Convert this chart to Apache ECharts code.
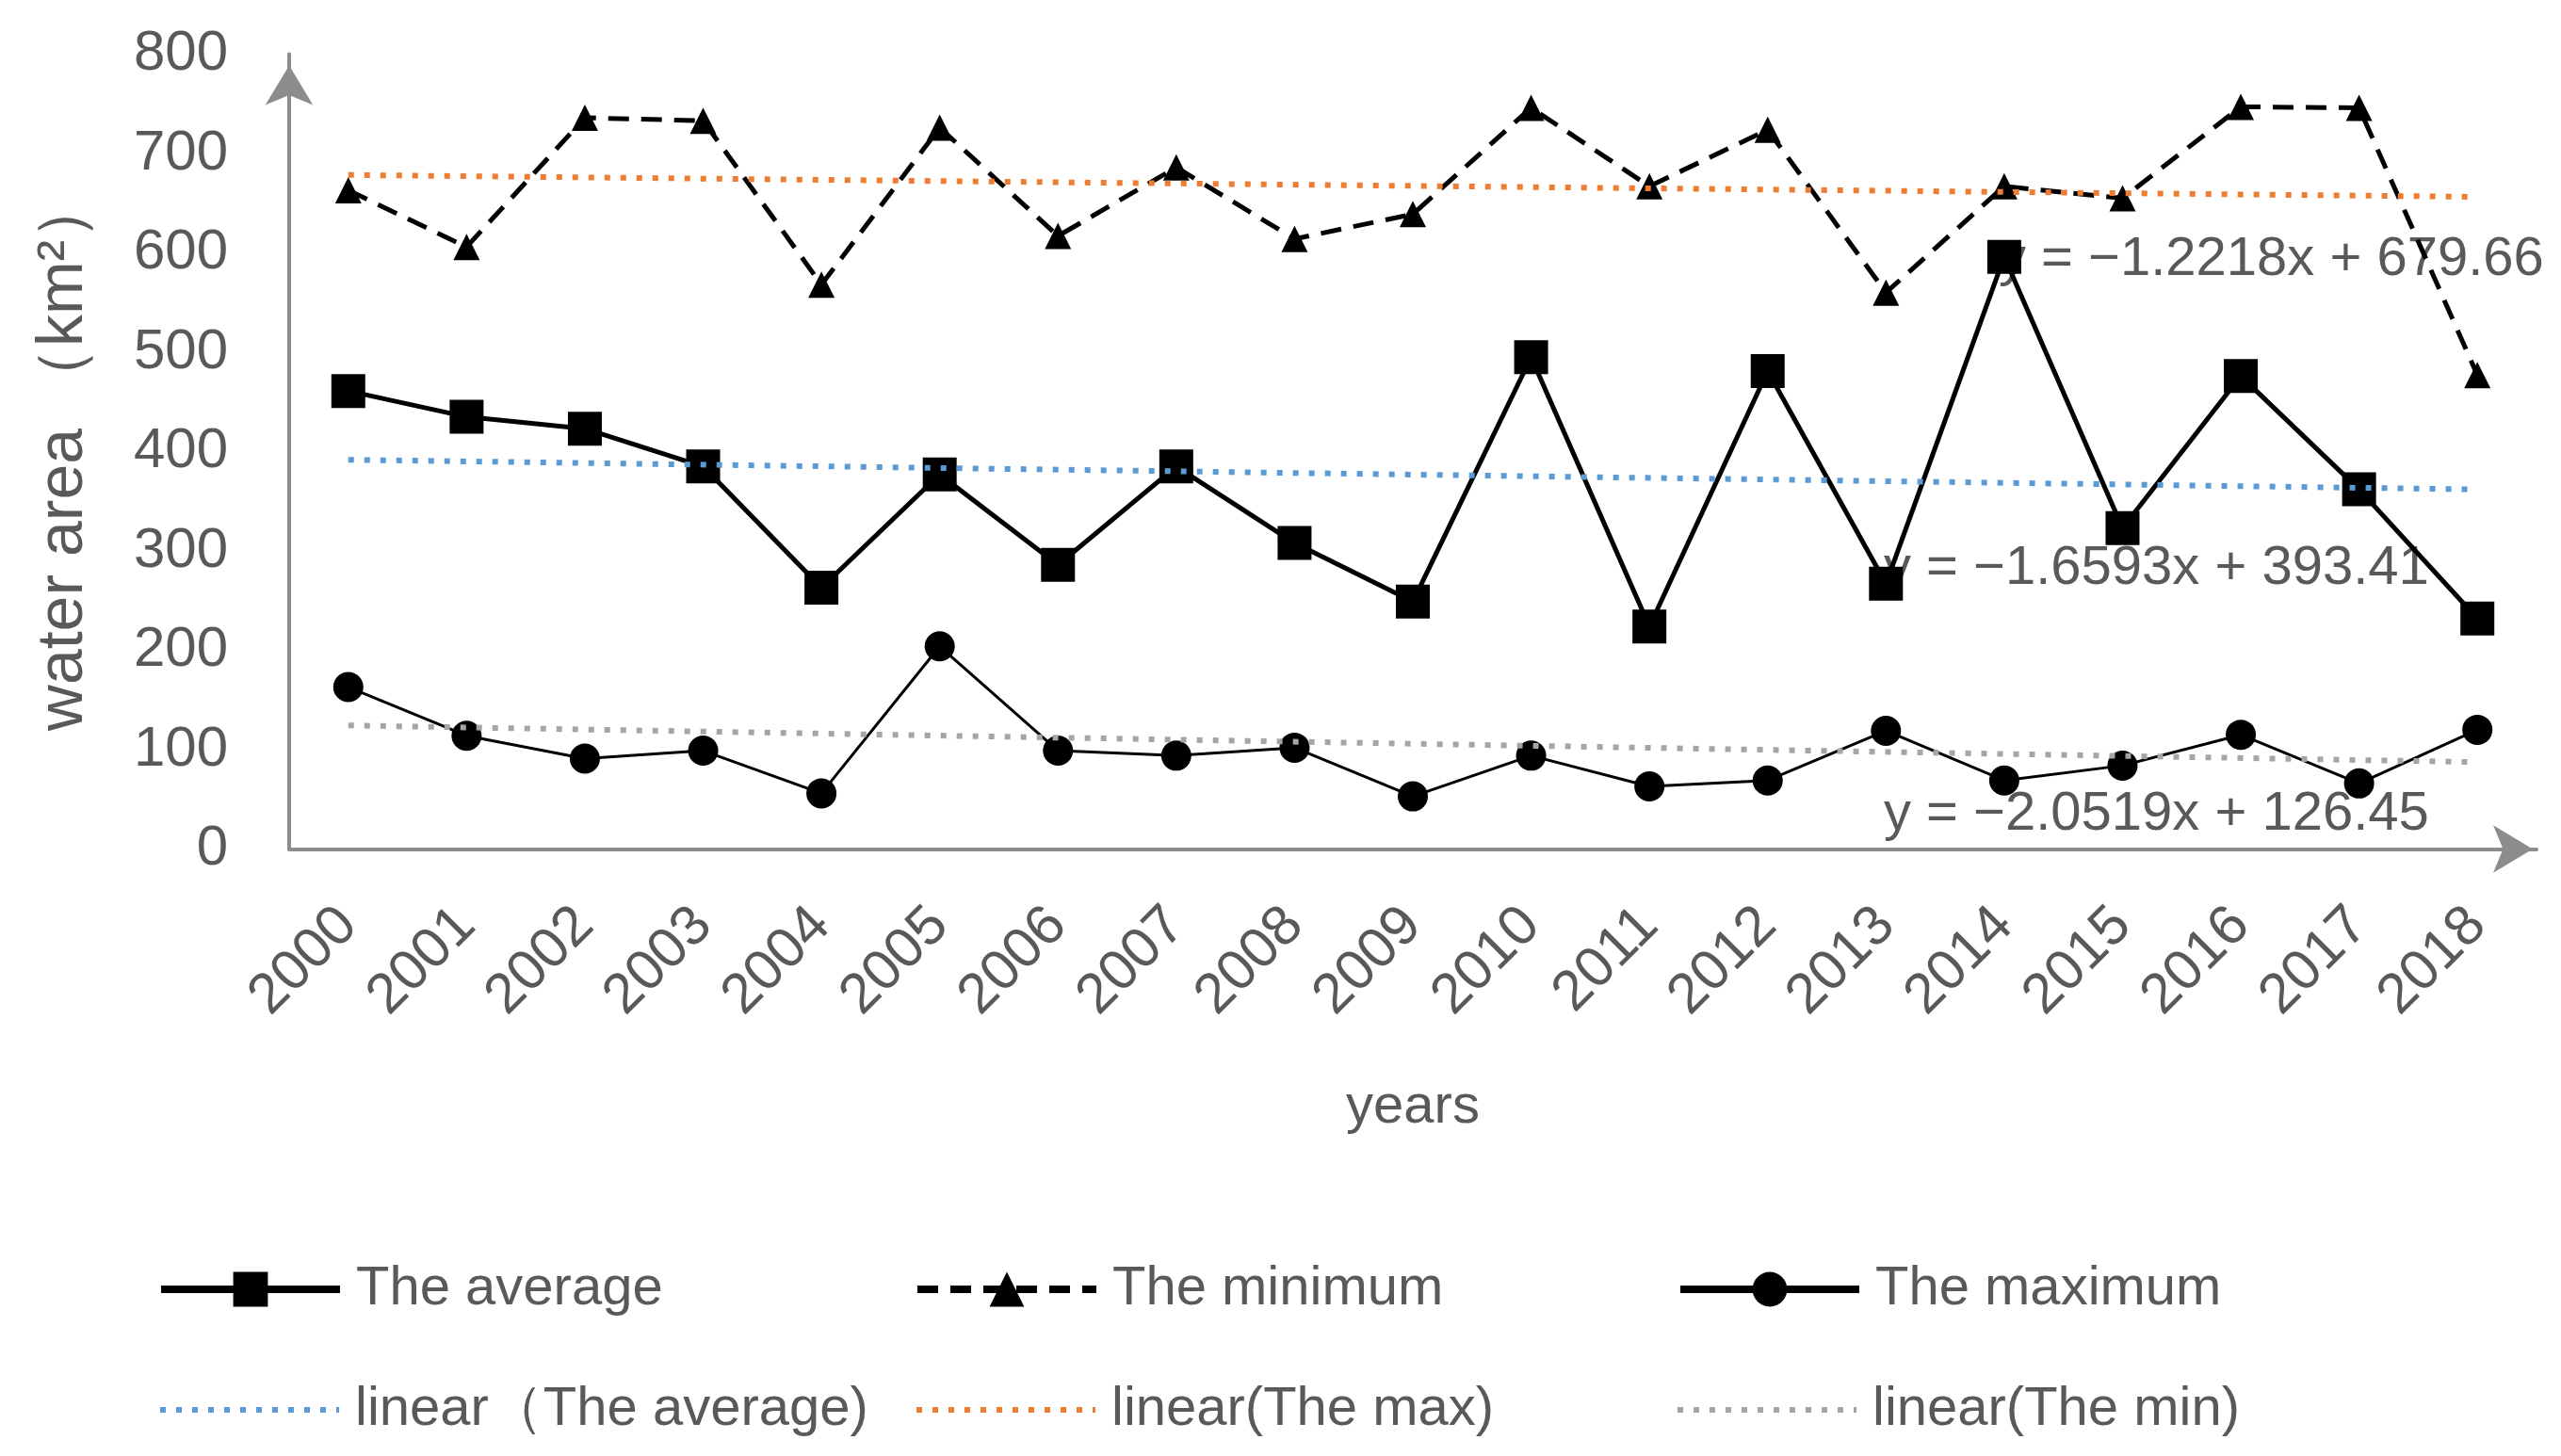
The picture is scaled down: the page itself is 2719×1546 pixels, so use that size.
<!DOCTYPE html>
<html>
<head>
<meta charset="utf-8">
<script src="https://cdn.jsdelivr.net/npm/echarts@6/dist/echarts.min.js"></script>
<style>html,body{margin:0;padding:0;background:#fff;}#chart{width:2719px;height:1546px;}</style>
</head>
<body>
<div id="chart"></div>
<script>
const years = ['2000','2001','2002','2003','2004','2005','2006','2007','2008','2009','2010','2011','2012','2013','2014','2015','2016','2017','2018'];
const averageValues = [461,435,423,385,263,377,286,385,308,249,495,224,481,267,596,323,476,362,232];
const minimumValues = [663,606,736,733,568,726,617,686,614,639,746,667,724,560,667,655,747,746,477];
const maximumValues = [163,114,91,99,56,204,99,94,102,53,94,63,69,119,69,84,115,66,120];
// trend line end points (2000 and 2018)
const trendAverage = [391.8, 361.9];
const trendMax = [678.4, 656.4];
const trendMin = [124.4, 87.5];
const yTicks = [0,100,200,300,400,500,600,700,800];
const equations = ['y = \u22121.2218x + 679.66', 'y = \u22121.6593x + 393.41', 'y = \u22122.0519x + 126.45'];
const seriesNames = ['The average','The minimum','The maximum','linear\uFF08The average)','linear(The max)','linear(The min)'];

const FONT = 'Liberation Sans';
const TXT = '#595959';
const AX = '#8c8c8c';

const chart = echarts.init(document.getElementById('chart'));

function legendAt(name, left, cy, isTrend) {
  return {
    data: [name], left: left, top: cy - 30, orient: 'horizontal',
    itemWidth: 190, itemHeight: 46, padding: 0,
    lineStyle: {width: isTrend ? 6 : 8},
    itemStyle: isTrend ? {opacity: 0} : {},
    textStyle: {fontFamily: FONT, fontSize: 58, color: TXT, padding: [0,0,0,12], lineHeight: 60},
    selectedMode: false
  };
}

const option = {
  backgroundColor: '#fff',
  animation: false,
  grid: {left: 307, right: 26, top: 57.5, bottom: 644.5, containLabel: false, outerBoundsMode: 'none'},
  xAxis: {
    type: 'category', data: years, boundaryGap: true,
    name: 'years', nameLocation: 'middle', nameGap: 245,
    nameTextStyle: {fontFamily: FONT, fontSize: 58, color: TXT},
    axisLine: {show: true, lineStyle: {color: AX, width: 4}, symbol: ['none','arrow'], symbolSize: [38, 42], symbolOffset: [0, -4]},
    axisTick: {show: false},
    axisLabel: {rotate: 45, margin: 72, fontFamily: FONT, fontSize: 60, color: TXT, interval: 0},
    splitLine: {show: false}
  },
  yAxis: {
    type: 'value', min: yTicks[0], max: yTicks[yTicks.length-1], interval: 100,
    name: 'water area \uFF08km\u00B2\uFF09', nameLocation: 'middle', nameGap: 205, nameRotate: 90,
    nameTextStyle: {fontFamily: FONT, fontSize: 68, color: TXT, padding: [0, 4, 0, 0]},
    axisLine: {show: true, lineStyle: {color: AX, width: 4}, symbol: ['none','arrow'], symbolSize: [38, 42], symbolOffset: [0, -12]},
    axisTick: {show: false},
    axisLabel: {margin: 65, fontFamily: FONT, fontSize: 60, color: TXT},
    splitLine: {show: false}
  },
  legend: [
    legendAt(seriesNames[0], 167, 1369, false),
    legendAt(seriesNames[1], 970, 1369, false),
    legendAt(seriesNames[2], 1780, 1369, false),
    legendAt(seriesNames[3], 167, 1497, true),
    legendAt(seriesNames[4], 970, 1497, true),
    legendAt(seriesNames[5], 1778, 1497, true)
  ],
  graphic: [
    {type: 'text', left: 2122, top: 270 - 23, z: 0, style: {text: equations[0], font: '58px "Liberation Sans"', fill: TXT}},
    {type: 'text', left: 2000, top: 596 - 21, z: 0, style: {text: equations[1], font: '58px "Liberation Sans"', fill: TXT}},
    {type: 'text', left: 2000, top: 860 - 24, z: 0, style: {text: equations[2], font: '58px "Liberation Sans"', fill: TXT}}
  ],
  series: [
    {name: seriesNames[0], type: 'line', data: averageValues, symbol: 'rect', symbolSize: 36,
     lineStyle: {color: '#000', width: 5}, itemStyle: {color: '#000'}, z: 3},
    {name: seriesNames[1], type: 'line', data: minimumValues, symbol: 'triangle', symbolSize: 28,
     lineStyle: {color: '#000', width: 5, type: [22, 13]}, itemStyle: {color: '#000'}, z: 3},
    {name: seriesNames[2], type: 'line', data: maximumValues, symbol: 'circle', symbolSize: 32,
     lineStyle: {color: '#000', width: 3}, itemStyle: {color: '#000'}, z: 3},
    {name: seriesNames[3], type: 'line', data: [[years[0], trendAverage[0]], [years[years.length-1], trendAverage[1]]],
     symbol: 'none', lineStyle: {color: '#5B9BD5', width: 6, type: [6, 11]}, itemStyle: {color: '#5B9BD5'}, z: 4},
    {name: seriesNames[4], type: 'line', data: [[years[0], trendMax[0]], [years[years.length-1], trendMax[1]]],
     symbol: 'none', lineStyle: {color: '#ED7D31', width: 6, type: [6, 11]}, itemStyle: {color: '#ED7D31'}, z: 4},
    {name: seriesNames[5], type: 'line', data: [[years[0], trendMin[0]], [years[years.length-1], trendMin[1]]],
     symbol: 'none', lineStyle: {color: '#A5A5A5', width: 6, type: [6, 11]}, itemStyle: {color: '#A5A5A5'}, z: 4}
  ]
};
chart.setOption(option);
</script>
</body>
</html>
